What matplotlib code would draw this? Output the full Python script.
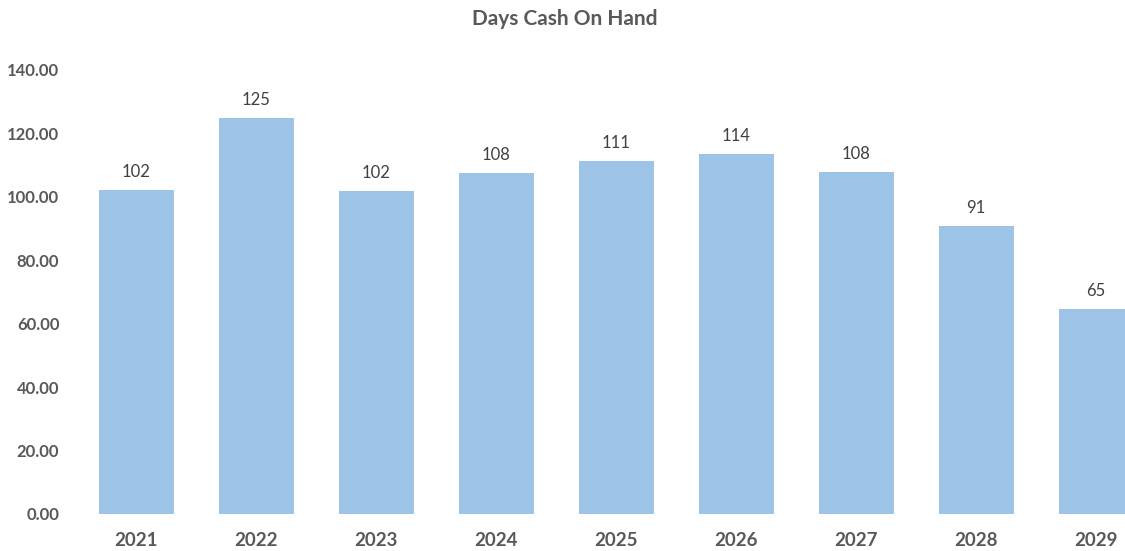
import matplotlib
matplotlib.use("Agg")
import matplotlib.pyplot as plt

years = ["2021", "2022", "2023", "2024", "2025", "2026", "2027", "2028", "2029"]
days_cash = [102.2, 125.0, 101.9, 107.6, 111.3, 113.6, 107.9, 90.8, 64.6]
y_ticks = [0, 20, 40, 60, 80, 100, 120, 140]

plt.rcParams['font.family'] = ['Lato', 'DejaVu Sans']

W, H = 1125, 551
fig = plt.figure(figsize=(W / 100, H / 100), dpi=100)
left_px, right_px, bottom_px, top_px = 76, 1156, 514, 70
ax = fig.add_axes([left_px / W, (H - bottom_px) / H,
                   (right_px - left_px) / W, (bottom_px - top_px) / H])

x = list(range(len(years)))
bars = ax.bar(x, days_cash, width=0.625, color="#9DC3E6")
ax.set_xlim(-0.5, len(years) - 0.5)
ax.set_ylim(0, 140)

for xi, v in zip(x, days_cash):
    ax.annotate(f"{v:.0f}", (xi, v), xytext=(0, 7), textcoords="offset points",
                ha="center", va="bottom", fontsize=12, color="#404040")

ax.set_xticks(x)
ax.set_xticklabels(years, fontsize=13.5, fontweight="bold", color="#595959")
ax.set_yticks(y_ticks)
ax.set_yticklabels([f"{t:.2f}" for t in y_ticks], fontsize=12, fontweight="bold", color="#595959")
ax.tick_params(axis="x", length=0, pad=13)
ax.tick_params(axis="y", length=0, pad=12)
for s in ax.spines.values():
    s.set_visible(False)

fig.text(565 / W, 1 - 19 / H, "Days Cash On Hand", ha="center", va="center",
         fontsize=15, fontweight="bold", color="#595959")

fig.savefig("out.png", dpi=100)
